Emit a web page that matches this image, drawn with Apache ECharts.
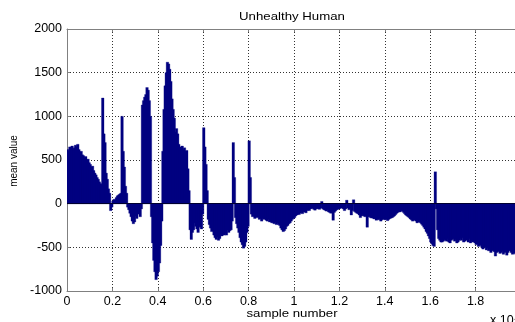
<!DOCTYPE html>
<html>
<head>
<meta charset="utf-8">
<script src="https://cdn.jsdelivr.net/npm/echarts@6/dist/echarts.min.js"></script>
<style>
  html, body { margin: 0; padding: 0; background: #fff; }
  #chart { width: 515px; height: 322px; }
</style>
</head>
<body>
<div id="chart"></div>
<script>
// Title and axis texts
const chartTitle = 'Unhealthy Human';
const xAxisName = 'sample number';
const yAxisName = 'mean value';
const xScaleNote = 'x 10\u2074';

// Axis ticks (x in units of 10^4 samples)
const xTickMin = 0, xTickMax = 2, xTickStep = 0.2;
const yTickMin = -1000, yTickMax = 2000, yTickStep = 500;

// Mean value per bin (400 equal bins of 50 samples, 0 to 2 x10^4)
const meanValues = [
  620, 600, 650, 630, 660, 620, 640, 670, 650, 680,
  620, 590, 600, 560, 550, 530, 540, 500, 510, 470,
  450, 420, 430, 380, 350, 330, 300, 280, 250, 230,
  220, 1210, 800, 700, 350, 280, 170, 120, -80, -40,
  30, 50, 40, 70, 90, 100, 110, 120, 1000, 600,
  420, 200, 120, -40, -70, -110, -150, -200, -230, -210,
  -140, -170, -90, -120, -150, -60, 1130, 1180, 1220, 1250,
  1330, 1300, 1180, 1000, -150, -450, -650, -780, -870, -830,
  -780, -680, -480, -200, 600, 1080, 1350, 1500, 1620, 1600,
  1540, 1400, 1200, 1080, 980, 820, 860, 800, 680, 650,
  630, 660, 620, 640, 600, 610, 400, 150, -300, -410,
  -330, -300, -220, -260, -290, -330, -250, -270, -290, -120,
  870, 650, 450, 150, -180, -240, -280, -320, -300, -360,
  -390, -410, -380, -420, -400, -350, -370, -330, -360, -340,
  -360, -300, -330, -310, -300, -200, 700, 300, -160, -230,
  -280, -330, -390, -440, -470, -510, -490, -440, -330, -260,
  720, 300, -120, -150, -140, -170, -130, -160, -150, -180,
  -170, -200, -160, -180, -170, -190, -200, -180, -210, -200,
  -220, -190, -230, -210, -240, -220, -240, -250, -280, -300,
  -320, -310, -290, -260, -250, -230, -220, -200, -180, -170,
  -160, -140, -130, -120, -125, -110, -100, -115, -90, -95,
  -105, -80, -70, -80, -60, -55, -50, -65, -75, -60,
  -50, -60, -65, -50, 25, -60, -70, -75, -85, -70,
  -95, -100, -110, -90, -190, -100, -85, -70, -65, -60,
  -55, -50, -45, -60, -80, -60, 40, -50, -70, -50,
  -130, -80, 45, -90, -100, -110, -115, -130, -160, -140,
  -125, -140, -150, -135, -270, -150, -145, -160, -165, -150,
  -175, -165, -190, -175, -185, -170, -200, -185, -165, -180,
  -185, -175, -195, -180, -170, -165, -160, -150, -140, -125,
  -110, -100, -85, -95, -75, -85, -100, -115, -130, -140,
  -150, -160, -175, -185, -200, -190, -185, -200, -220, -210,
  -205, -220, -235, -250, -270, -290, -320, -340, -370, -400,
  -440, -460, -480, -490, 365, -60, -300, -400, -420, -440,
  -440, -430, -410, -420, -430, -400, -440, -450, -420, -410,
  -400, -430, -410, -450, -440, -420, -400, -420, -390, -440,
  -430, -420, -410, -440, -400, -450, -430, -440, -420, -450,
  -470, -460, -490, -480, -470, -500, -520, -490, -500, -530,
  -510, -540, -520, -560, -540, -530, -550, -600, -560, -550,
  -540, -570, -560, -540, -580, -560, -550, -590, -560, -530,
  -540, -560, -580, -570, -560, -580, -560, -570, -550, -560
];
const binIndex = meanValues.map((_, i) => i);

const FONT = '"Liberation Sans", Arial, sans-serif';
const chart = echarts.init(document.getElementById('chart'), null, { renderer: 'canvas' });

const gridDots = { show: true, lineStyle: { color: '#333', type: [1, 2], width: 1 } };
const axisGray = '#808080';
const barColor = '#000080';

function renderBar(params, api) {
  const idx = api.value(0);
  const val = api.value(1);
  const top = api.coord([idx, val]);
  const base = api.coord([idx, 0]);
  const w = api.size([1, 0])[0];
  const y0 = Math.min(top[1], base[1]);
  const h = Math.abs(base[1] - top[1]);
  return {
    type: 'rect',
    shape: { x: top[0] - w / 2 - 0.7, y: y0, width: w + 1.4, height: h },
    style: { fill: barColor, stroke: barColor, lineWidth: 0.3 }
  };
}

chart.setOption({
  animation: false,
  backgroundColor: '#fff',
  grid: { left: 67, top: 29, width: 454, height: 262, containLabel: false, outerBoundsMode: 'none' },
  xAxis: [
    {
      type: 'category', data: binIndex, show: false,
      boundaryGap: true
    },
    {
      type: 'value', min: xTickMin, max: xTickMax, interval: xTickStep,
      position: 'bottom',
      axisLine: { show: true, onZero: false, lineStyle: { color: axisGray, width: 1 } },
      axisTick: { show: true, inside: true, length: 3, lineStyle: { color: axisGray } },
      axisLabel: {
        color: '#000', fontFamily: FONT, fontSize: 12.5, margin: 4,
        formatter: v => (Math.round(v * 10) / 10).toString()
      },
      splitLine: gridDots
    },
    {
      type: 'value', min: xTickMin, max: xTickMax, interval: xTickStep,
      position: 'top',
      axisLine: { show: true, onZero: false, lineStyle: { color: axisGray, width: 1 } },
      axisTick: { show: true, inside: true, length: 3, lineStyle: { color: axisGray } },
      axisLabel: { show: false },
      splitLine: { show: false }
    }
  ],
  yAxis: {
    type: 'value', min: yTickMin, max: yTickMax, interval: yTickStep,
    axisLine: { show: true, lineStyle: { color: axisGray, width: 1 } },
    axisTick: { show: true, inside: true, length: 3, lineStyle: { color: axisGray } },
    axisLabel: { color: '#000', fontFamily: FONT, fontSize: 12.5, margin: 5,
                 formatter: v => String(v) },
    splitLine: gridDots
  },
  series: [{
    type: 'custom',
    xAxisIndex: 0,
    renderItem: renderBar,
    encode: { x: 0, y: 1 },
    data: meanValues.map((v, i) => [binIndex[i], v]),
    clip: true,
    markLine: {
      silent: true,
      symbol: 'none',
      label: { show: false },
      lineStyle: { color: '#000030', type: 'solid', width: 1 },
      data: [{ yAxis: 0 }]
    }
  }],
  graphic: [
    {
      type: 'text', x: 292, y: 11, scaleX: 1.15,
      style: { text: chartTitle, fill: '#000', fontFamily: FONT, fontSize: 11.5,
               align: 'center', verticalAlign: 'top', textAlign: 'center', textVerticalAlign: 'top' }
    },
    {
      type: 'text', x: 292, y: 308, scaleX: 1.15,
      style: { text: xAxisName, fill: '#000', fontFamily: FONT, fontSize: 11.5,
               align: 'center', verticalAlign: 'top', textAlign: 'center', textVerticalAlign: 'top' }
    },
    {
      type: 'text', x: 14, y: 161, rotation: Math.PI / 2,
      style: { text: yAxisName, fill: '#000', fontFamily: FONT, fontSize: 10,
               align: 'center', verticalAlign: 'middle', textAlign: 'center', textVerticalAlign: 'middle' }
    },
    {
      type: 'text', x: 490, y: 314,
      style: { text: xScaleNote, fill: '#000', fontFamily: FONT, fontSize: 12.5,
               align: 'left', verticalAlign: 'top', textAlign: 'left', textVerticalAlign: 'top' }
    }
  ]
});
</script>
</body>
</html>
